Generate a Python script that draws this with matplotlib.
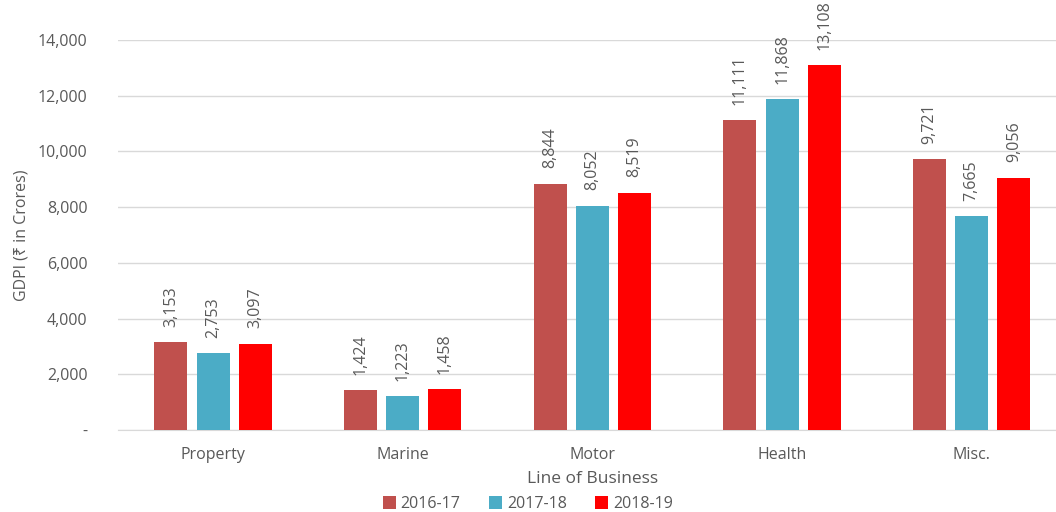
import matplotlib
matplotlib.use("Agg")
import matplotlib.pyplot as plt
import numpy as np

plt.rcParams['font.family'] = ['Open Sans', 'Noto Sans', 'DejaVu Sans']

categories = ["Property", "Marine", "Motor", "Health", "Misc."]
years = ["2016-17", "2017-18", "2018-19"]
gdpi_2016_17 = [3153, 1424, 8844, 11111, 9721]
gdpi_2017_18 = [2753, 1223, 8052, 11868, 7665]
gdpi_2018_19 = [3097, 1458, 8519, 13108, 9056]

series = [gdpi_2016_17, gdpi_2017_18, gdpi_2018_19]
colors = ["#C0504D", "#4BACC6", "#FF0000"]
text_color = "#595959"

fig = plt.figure(figsize=(10.56, 5.12), dpi=100)
ax = fig.add_axes([0.112, 0.160, 0.898, 0.762])

x = np.arange(len(categories))
width = 0.174
step = 0.222
for i, (vals, col, yr) in enumerate(zip(series, colors, years)):
    pos = x + (i - 1) * step
    bars = ax.bar(pos, vals, width=width, color=col, label=yr, zorder=3)
    for b, v in zip(bars, vals):
        ax.annotate(f"{v:,}", (b.get_x() + b.get_width() / 2, v),
                    xytext=(0, 11), textcoords="offset points",
                    rotation=90, ha="center", va="bottom",
                    fontsize=11.5, color=text_color)

ax.set_xlim(-0.5, len(categories) - 0.5)
ax.set_ylim(0, 14000)
ax.set_yticks(range(0, 14001, 2000))
ax.set_yticklabels(["-"] + [f"{t:,}" for t in range(2000, 14001, 2000)])
ax.set_xticks(x)
ax.set_xticklabels(categories)
ax.tick_params(axis="both", length=0, labelsize=11.5, colors=text_color)
ax.tick_params(axis="y", pad=22)
ax.tick_params(axis="x", pad=12)
ax.grid(axis="y", color="#D9D9D9", linewidth=1, zorder=0)
for s in ["top", "right", "left"]:
    ax.spines[s].set_visible(False)
ax.spines["bottom"].set_color("#D9D9D9")

ax.set_ylabel("GDPI (₹ in Crores)", fontsize=11.5, color=text_color, labelpad=6)
ax.set_xlabel("Line of Business", fontsize=12.5, color=text_color, labelpad=6)

fig.legend(loc="lower center", bbox_to_anchor=(0.5, -0.028), ncol=3,
           frameon=False, fontsize=11.5, labelcolor=text_color,
           handlelength=0.8, handleheight=0.8, handletextpad=0.3,
           columnspacing=1.8)

fig.savefig("out.png", dpi=100)
